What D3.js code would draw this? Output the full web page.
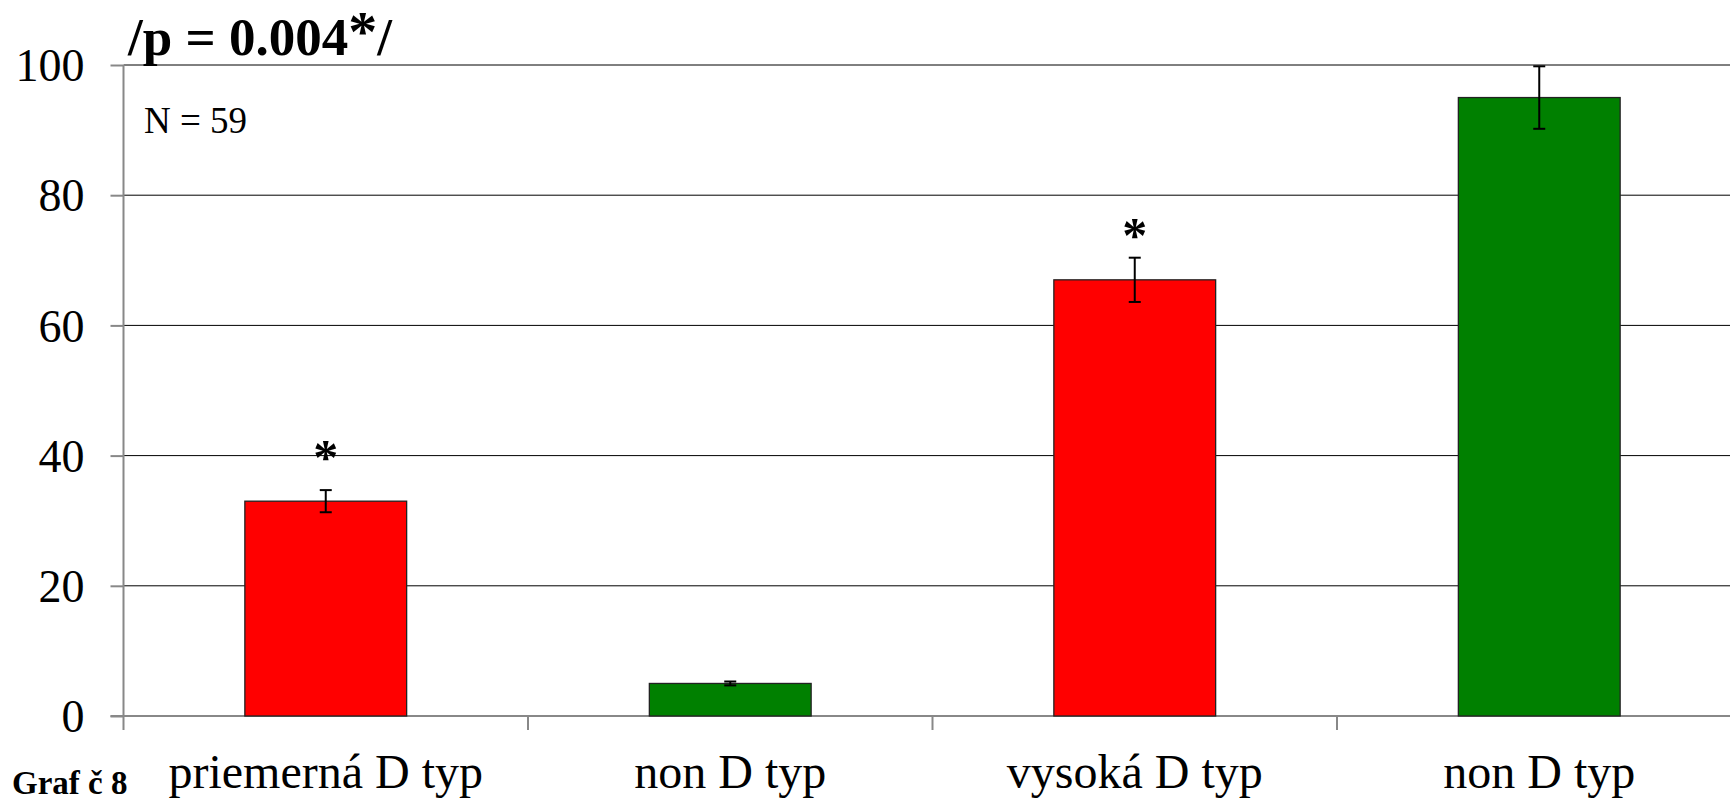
<!DOCTYPE html>
<html>
<head>
<meta charset="utf-8">
<script src="https://cdn.jsdelivr.net/npm/d3@7"></script>
<style>
  body { margin: 0; background: #fff; }
  text { font-family: "Liberation Serif", "Times New Roman", serif; }
</style>
</head>
<body>
<script>
var categories = ['priemerná D typ', 'non D typ', 'vysoká D typ', 'non D typ'];
var values = [33, 5, 67, 95];
var errors = [1.7, 0.3, 3.4, 4.8];
var colors = ['#ff0000', '#008000', '#ff0000', '#008000'];
var marks = ['*', '', '*', ''];
var yTicks = [0, 20, 40, 60, 80, 100];

var w = 1730;
var h = 802;

var data = categories.map(function(c, i){
    return {key: i, label: c, value: values[i], err: errors[i], color: colors[i], mark: marks[i]};
});

var svg = d3.select('body')
            .append('svg')
            .attr('width', w)
            .attr('height', h);

svg.append('rect')
   .attr('width', w)
   .attr('height', h)
   .attr('fill', 'white');

var left = 123.5;
var right = 1741.5;

var x = d3.scaleBand()
    .domain(data.map(function(d){ return d.key; }))
    .range([left, right])
    .paddingInner(0.6)
    .paddingOuter(0.3);

var y = d3.scaleLinear()
    .domain([0, 100])
    .range([716, 65]);

var step = x.step();

// gridlines
svg.selectAll('.grid')
   .data(yTicks.filter(function(t){ return t > 0; }))
   .enter()
   .append('line')
   .attr('x1', left)
   .attr('x2', w)
   .attr('y1', function(d){ return y(d); })
   .attr('y2', function(d){ return y(d); })
   .attr('stroke', '#000')
   .attr('stroke-width', 1);

// y axis
var yAxis = d3.axisLeft(y)
    .tickValues(yTicks)
    .tickSize(13)
    .tickPadding(26);

var gy = svg.append('g')
    .attr('transform', 'translate(' + left + ',0)')
    .call(yAxis);
gy.select('.domain').remove();
gy.selectAll('.tick line').attr('stroke', '#888').attr('stroke-width', 2);
gy.selectAll('.tick text')
  .attr('fill', '#000')
  .style('font-size', '46px')
  .style('font-family', '"Liberation Serif", serif')
  .attr('dy', '0.34em');

svg.append('line')
   .attr('x1', left).attr('x2', left)
   .attr('y1', y(100)).attr('y2', y(0) + 14)
   .attr('stroke', '#888').attr('stroke-width', 2);

// x axis
svg.append('line')
   .attr('x1', left - 13).attr('x2', w)
   .attr('y1', y(0)).attr('y2', y(0))
   .attr('stroke', '#888').attr('stroke-width', 2);

svg.selectAll('.xtick')
   .data(data)
   .enter()
   .append('line')
   .attr('x1', function(d){ return x(d.key) + x.bandwidth()/2 + step/2; })
   .attr('x2', function(d){ return x(d.key) + x.bandwidth()/2 + step/2; })
   .attr('y1', y(0))
   .attr('y2', y(0) + 14)
   .attr('stroke', '#888')
   .attr('stroke-width', 2);

svg.selectAll('.xlabel')
   .data(data)
   .enter()
   .append('text')
   .attr('x', function(d){ return x(d.key) + x.bandwidth()/2; })
   .attr('y', 788)
   .attr('text-anchor', 'middle')
   .style('font-size', '48px')
   .text(function(d){ return d.label; });

// bars
svg.selectAll('.bar')
   .data(data)
   .enter()
   .append('rect')
   .attr('x', function(d){ return x(d.key); })
   .attr('y', function(d){ return y(d.value); })
   .attr('width', x.bandwidth())
   .attr('height', function(d){ return y(0) - y(d.value); })
   .attr('fill', function(d){ return d.color; })
   .attr('stroke', '#222')
   .attr('stroke-width', 1.3);

// error bars
var eb = svg.selectAll('.err')
   .data(data)
   .enter()
   .append('g');

eb.append('line')
  .attr('x1', function(d){ return x(d.key) + x.bandwidth()/2; })
  .attr('x2', function(d){ return x(d.key) + x.bandwidth()/2; })
  .attr('y1', function(d){ return y(d.value + d.err); })
  .attr('y2', function(d){ return y(d.value - d.err); })
  .attr('stroke', '#000')
  .attr('stroke-width', 2);

[1, -1].forEach(function(s){
    eb.append('line')
      .attr('x1', function(d){ return x(d.key) + x.bandwidth()/2 - 6; })
      .attr('x2', function(d){ return x(d.key) + x.bandwidth()/2 + 6; })
      .attr('y1', function(d){ return y(d.value + s*d.err); })
      .attr('y2', function(d){ return y(d.value + s*d.err); })
      .attr('stroke', '#000')
      .attr('stroke-width', 2);
});

// significance marks
svg.selectAll('.mark')
   .data(data.filter(function(d){ return d.mark; }))
   .enter()
   .append('text')
   .attr('x', function(d){ return x(d.key) + x.bandwidth()/2; })
   .attr('y', function(d){ return y(d.value) - 55; })
   .attr('dy', '0.55em')
   .attr('text-anchor', 'middle')
   .style('font-size', '50px')
   .style('font-weight', 'bold')
   .text(function(d){ return d.mark; });

// titles
var title = svg.append('text')
   .attr('x', 128)
   .attr('y', 55)
   .style('font-size', '53px')
   .style('font-weight', 'bold');
title.append('tspan').text('/p = 0.004');
title.append('tspan').attr('dy', -4).style('font-size', '58px').text('*');
title.append('tspan').attr('dy', 4).text('/');

svg.append('text')
   .attr('x', 144)
   .attr('y', 133)
   .style('font-size', '37px')
   .text('N = 59');

svg.append('text')
   .attr('x', 12)
   .attr('y', 794)
   .style('font-size', '33px')
   .style('font-weight', 'bold')
   .text('Graf č 8');
</script>
</body>
</html>
